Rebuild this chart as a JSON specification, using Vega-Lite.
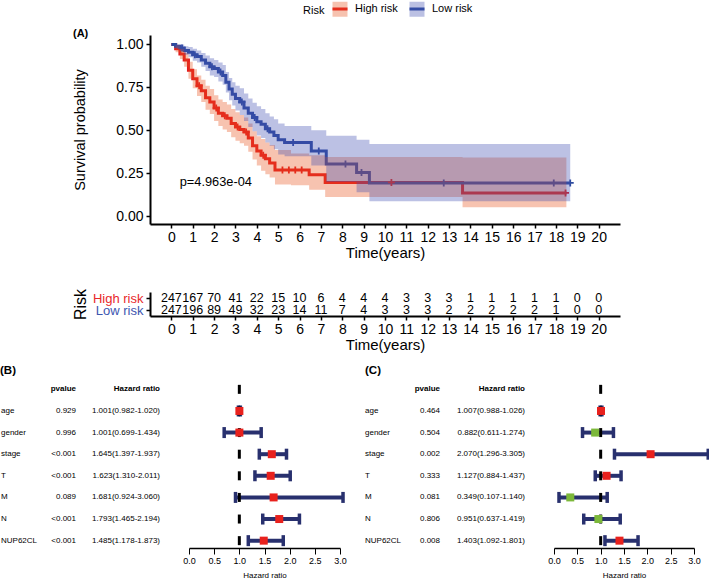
{
  "$schema": "https://vega.github.io/schema/vega-lite/v6.json",
  "background": "white",
  "padding": {"left": 0, "top": 0, "right": 0, "bottom": 0},
  "config": {
    "view": {"stroke": null},
    "font": "Liberation Sans",
    "axis": {"grid": false, "domainColor": "black", "tickColor": "black", "labelColor": "black", "titleColor": "black", "titleFontWeight": "normal"},
    "title": {"color": "black"}
  },
  "datasets": {
    "km": [
      {"g": "High risk", "t": 0, "s": 1, "lo": 1, "hi": 1},
      {"g": "High risk", "t": 0.2, "s": 0.975, "lo": 0.955, "hi": 0.995},
      {"g": "High risk", "t": 0.4, "s": 0.945, "lo": 0.915, "hi": 0.975},
      {"g": "High risk", "t": 0.6, "s": 0.91, "lo": 0.87, "hi": 0.95},
      {"g": "High risk", "t": 0.8, "s": 0.85, "lo": 0.8, "hi": 0.9},
      {"g": "High risk", "t": 1.0, "s": 0.8, "lo": 0.745, "hi": 0.855},
      {"g": "High risk", "t": 1.2, "s": 0.76, "lo": 0.7, "hi": 0.82},
      {"g": "High risk", "t": 1.4, "s": 0.73, "lo": 0.665, "hi": 0.795},
      {"g": "High risk", "t": 1.6, "s": 0.69, "lo": 0.62, "hi": 0.76},
      {"g": "High risk", "t": 1.8, "s": 0.665, "lo": 0.595, "hi": 0.74},
      {"g": "High risk", "t": 2.0, "s": 0.63, "lo": 0.555, "hi": 0.705},
      {"g": "High risk", "t": 2.2, "s": 0.6, "lo": 0.525, "hi": 0.68},
      {"g": "High risk", "t": 2.4, "s": 0.585, "lo": 0.505, "hi": 0.665},
      {"g": "High risk", "t": 2.6, "s": 0.57, "lo": 0.49, "hi": 0.65},
      {"g": "High risk", "t": 2.8, "s": 0.54, "lo": 0.46, "hi": 0.625},
      {"g": "High risk", "t": 3.0, "s": 0.52, "lo": 0.44, "hi": 0.605},
      {"g": "High risk", "t": 3.2, "s": 0.505, "lo": 0.425, "hi": 0.59},
      {"g": "High risk", "t": 3.4, "s": 0.49, "lo": 0.41, "hi": 0.575},
      {"g": "High risk", "t": 3.6, "s": 0.455, "lo": 0.375, "hi": 0.54},
      {"g": "High risk", "t": 3.8, "s": 0.41, "lo": 0.33, "hi": 0.495},
      {"g": "High risk", "t": 4.0, "s": 0.38, "lo": 0.295, "hi": 0.465},
      {"g": "High risk", "t": 4.2, "s": 0.355, "lo": 0.265, "hi": 0.45},
      {"g": "High risk", "t": 4.4, "s": 0.335, "lo": 0.245, "hi": 0.43},
      {"g": "High risk", "t": 4.6, "s": 0.31, "lo": 0.225, "hi": 0.415},
      {"g": "High risk", "t": 4.85, "s": 0.27, "lo": 0.185, "hi": 0.385},
      {"g": "High risk", "t": 5.6, "s": 0.27, "lo": 0.18, "hi": 0.365},
      {"g": "High risk", "t": 6.45, "s": 0.242, "lo": 0.155, "hi": 0.355},
      {"g": "High risk", "t": 7.2, "s": 0.197, "lo": 0.112, "hi": 0.345},
      {"g": "High risk", "t": 13.63, "s": 0.136, "lo": 0.052, "hi": 0.342},
      {"g": "High risk", "t": 18.49, "s": 0.136, "lo": 0.052, "hi": 0.342},
      {"g": "Low risk", "t": 0, "s": 1, "lo": 1, "hi": 1},
      {"g": "Low risk", "t": 0.2, "s": 0.99, "lo": 0.975, "hi": 1.0},
      {"g": "Low risk", "t": 0.4, "s": 0.98, "lo": 0.96, "hi": 1.0},
      {"g": "Low risk", "t": 0.6, "s": 0.965, "lo": 0.94, "hi": 0.99},
      {"g": "Low risk", "t": 0.8, "s": 0.955, "lo": 0.925, "hi": 0.985},
      {"g": "Low risk", "t": 1.0, "s": 0.94, "lo": 0.905, "hi": 0.975},
      {"g": "Low risk", "t": 1.2, "s": 0.93, "lo": 0.895, "hi": 0.965},
      {"g": "Low risk", "t": 1.4, "s": 0.91, "lo": 0.87, "hi": 0.95},
      {"g": "Low risk", "t": 1.6, "s": 0.89, "lo": 0.845, "hi": 0.935},
      {"g": "Low risk", "t": 1.8, "s": 0.87, "lo": 0.82, "hi": 0.92},
      {"g": "Low risk", "t": 2.0, "s": 0.86, "lo": 0.81, "hi": 0.91},
      {"g": "Low risk", "t": 2.2, "s": 0.84, "lo": 0.785, "hi": 0.895},
      {"g": "Low risk", "t": 2.4, "s": 0.82, "lo": 0.765, "hi": 0.88},
      {"g": "Low risk", "t": 2.55, "s": 0.78, "lo": 0.72, "hi": 0.84},
      {"g": "Low risk", "t": 2.7, "s": 0.74, "lo": 0.675, "hi": 0.805},
      {"g": "Low risk", "t": 2.85, "s": 0.71, "lo": 0.645, "hi": 0.78},
      {"g": "Low risk", "t": 3.0, "s": 0.685, "lo": 0.615, "hi": 0.76},
      {"g": "Low risk", "t": 3.2, "s": 0.665, "lo": 0.59, "hi": 0.745},
      {"g": "Low risk", "t": 3.4, "s": 0.63, "lo": 0.555, "hi": 0.715},
      {"g": "Low risk", "t": 3.6, "s": 0.6, "lo": 0.52, "hi": 0.685},
      {"g": "Low risk", "t": 3.8, "s": 0.575, "lo": 0.495, "hi": 0.66},
      {"g": "Low risk", "t": 4.0, "s": 0.55, "lo": 0.47, "hi": 0.64},
      {"g": "Low risk", "t": 4.2, "s": 0.535, "lo": 0.455, "hi": 0.625},
      {"g": "Low risk", "t": 4.4, "s": 0.51, "lo": 0.43, "hi": 0.6},
      {"g": "Low risk", "t": 4.6, "s": 0.49, "lo": 0.41, "hi": 0.58},
      {"g": "Low risk", "t": 4.8, "s": 0.47, "lo": 0.39, "hi": 0.565},
      {"g": "Low risk", "t": 5.0, "s": 0.445, "lo": 0.36, "hi": 0.54},
      {"g": "Low risk", "t": 5.3, "s": 0.43, "lo": 0.35, "hi": 0.525},
      {"g": "Low risk", "t": 6.55, "s": 0.38, "lo": 0.295, "hi": 0.5},
      {"g": "Low risk", "t": 7.25, "s": 0.304, "lo": 0.2, "hi": 0.468},
      {"g": "Low risk", "t": 8.67, "s": 0.255, "lo": 0.14, "hi": 0.445},
      {"g": "Low risk", "t": 9.27, "s": 0.194, "lo": 0.087, "hi": 0.42},
      {"g": "Low risk", "t": 18.67, "s": 0.194, "lo": 0.087, "hi": 0.42}
    ],
    "cens": [
      {"g": "High risk", "t": 1.3, "s": 0.76},
      {"g": "High risk", "t": 2.1, "s": 0.63},
      {"g": "High risk", "t": 2.5, "s": 0.585},
      {"g": "High risk", "t": 3.1, "s": 0.52},
      {"g": "High risk", "t": 3.5, "s": 0.49},
      {"g": "High risk", "t": 4.3, "s": 0.355},
      {"g": "High risk", "t": 5.2, "s": 0.27},
      {"g": "High risk", "t": 5.5, "s": 0.27},
      {"g": "High risk", "t": 5.8, "s": 0.27},
      {"g": "High risk", "t": 6.1, "s": 0.27},
      {"g": "High risk", "t": 10.3, "s": 0.197},
      {"g": "High risk", "t": 18.45, "s": 0.136},
      {"g": "Low risk", "t": 0.5, "s": 0.98},
      {"g": "Low risk", "t": 1.1, "s": 0.94},
      {"g": "Low risk", "t": 1.9, "s": 0.87},
      {"g": "Low risk", "t": 2.3, "s": 0.84},
      {"g": "Low risk", "t": 3.3, "s": 0.665},
      {"g": "Low risk", "t": 3.9, "s": 0.575},
      {"g": "Low risk", "t": 4.5, "s": 0.51},
      {"g": "Low risk", "t": 5.7, "s": 0.43},
      {"g": "Low risk", "t": 6.9, "s": 0.38},
      {"g": "Low risk", "t": 8.15, "s": 0.304},
      {"g": "Low risk", "t": 8.9, "s": 0.255},
      {"g": "Low risk", "t": 12.75, "s": 0.194},
      {"g": "Low risk", "t": 17.9, "s": 0.194},
      {"g": "Low risk", "t": 18.67, "s": 0.194}
    ],
    "risk": [
      {"g": "High risk", "t": 0, "n": 247}, {"g": "High risk", "t": 1, "n": 167}, {"g": "High risk", "t": 2, "n": 70},
      {"g": "High risk", "t": 3, "n": 41}, {"g": "High risk", "t": 4, "n": 22}, {"g": "High risk", "t": 5, "n": 15},
      {"g": "High risk", "t": 6, "n": 10}, {"g": "High risk", "t": 7, "n": 6}, {"g": "High risk", "t": 8, "n": 4},
      {"g": "High risk", "t": 9, "n": 4}, {"g": "High risk", "t": 10, "n": 4}, {"g": "High risk", "t": 11, "n": 3},
      {"g": "High risk", "t": 12, "n": 3}, {"g": "High risk", "t": 13, "n": 3}, {"g": "High risk", "t": 14, "n": 1},
      {"g": "High risk", "t": 15, "n": 1}, {"g": "High risk", "t": 16, "n": 1}, {"g": "High risk", "t": 17, "n": 1},
      {"g": "High risk", "t": 18, "n": 1}, {"g": "High risk", "t": 19, "n": 0}, {"g": "High risk", "t": 20, "n": 0},
      {"g": "Low risk", "t": 0, "n": 247}, {"g": "Low risk", "t": 1, "n": 196}, {"g": "Low risk", "t": 2, "n": 89},
      {"g": "Low risk", "t": 3, "n": 49}, {"g": "Low risk", "t": 4, "n": 32}, {"g": "Low risk", "t": 5, "n": 23},
      {"g": "Low risk", "t": 6, "n": 14}, {"g": "Low risk", "t": 7, "n": 11}, {"g": "Low risk", "t": 8, "n": 7},
      {"g": "Low risk", "t": 9, "n": 4}, {"g": "Low risk", "t": 10, "n": 3}, {"g": "Low risk", "t": 11, "n": 3},
      {"g": "Low risk", "t": 12, "n": 3}, {"g": "Low risk", "t": 13, "n": 2}, {"g": "Low risk", "t": 14, "n": 2},
      {"g": "Low risk", "t": 15, "n": 2}, {"g": "Low risk", "t": 16, "n": 2}, {"g": "Low risk", "t": 17, "n": 2},
      {"g": "Low risk", "t": 18, "n": 1}, {"g": "Low risk", "t": 19, "n": 0}, {"g": "Low risk", "t": 20, "n": 0}
    ],
    "fb": [
      {"key": "hdr", "name": "", "pv": "pvalue", "hr": "Hazard ratio"},
      {"key": "age", "name": "age", "pv": "0.929", "hr": "1.001(0.982-1.020)", "est": 1.001, "lo": 0.982, "hi": 1.02},
      {"key": "gender", "name": "gender", "pv": "0.996", "hr": "1.001(0.699-1.434)", "est": 1.001, "lo": 0.699, "hi": 1.434},
      {"key": "stage", "name": "stage", "pv": "<0.001", "hr": "1.645(1.397-1.937)", "est": 1.645, "lo": 1.397, "hi": 1.937},
      {"key": "T", "name": "T", "pv": "<0.001", "hr": "1.623(1.310-2.011)", "est": 1.623, "lo": 1.31, "hi": 2.011},
      {"key": "M", "name": "M", "pv": "0.089", "hr": "1.681(0.924-3.060)", "est": 1.681, "lo": 0.924, "hi": 3.06},
      {"key": "N", "name": "N", "pv": "<0.001", "hr": "1.793(1.465-2.194)", "est": 1.793, "lo": 1.465, "hi": 2.194},
      {"key": "NUP62CL", "name": "NUP62CL", "pv": "<0.001", "hr": "1.485(1.178-1.873)", "est": 1.485, "lo": 1.178, "hi": 1.873}
    ],
    "fc": [
      {"key": "hdr", "name": "", "pv": "pvalue", "hr": "Hazard ratio"},
      {"key": "age", "name": "age", "pv": "0.464", "hr": "1.007(0.988-1.026)", "est": 1.007, "lo": 0.988, "hi": 1.026},
      {"key": "gender", "name": "gender", "pv": "0.504", "hr": "0.882(0.611-1.274)", "est": 0.882, "lo": 0.611, "hi": 1.274},
      {"key": "stage", "name": "stage", "pv": "0.002", "hr": "2.070(1.296-3.305)", "est": 2.07, "lo": 1.296, "hi": 3.305},
      {"key": "T", "name": "T", "pv": "0.333", "hr": "1.127(0.884-1.437)", "est": 1.127, "lo": 0.884, "hi": 1.437},
      {"key": "M", "name": "M", "pv": "0.081", "hr": "0.349(0.107-1.140)", "est": 0.349, "lo": 0.107, "hi": 1.14},
      {"key": "N", "name": "N", "pv": "0.806", "hr": "0.951(0.637-1.419)", "est": 0.951, "lo": 0.637, "hi": 1.419},
      {"key": "NUP62CL", "name": "NUP62CL", "pv": "0.008", "hr": "1.403(1.092-1.801)", "est": 1.403, "lo": 1.092, "hi": 1.801}
    ]
  },
  "spacing": 12,
  "vconcat": [
    {
      "spacing": 28,
      "vconcat": [
        {
          "width": 620,
          "height": 189,
          "title": {"text": "(A)", "anchor": "start", "frame": "group", "dx": 73, "dy": 10, "baseline": "middle", "offset": 0, "fontSize": 11, "fontWeight": "bold"},
          "layer": [
            {
              "data": {"name": "km"},
              "mark": {"type": "line", "interpolate": "step-after", "strokeWidth": 3},
              "encoding": {
                "x": {"field": "t", "type": "quantitative",
                  "scale": {"domain": [-1, 21], "range": [150, 620], "nice": false, "zero": false},
                  "axis": {"values": [0,1,2,3,4,5,6,7,8,9,10,11,12,13,14,15,16,17,18,19,20], "title": "Time(years)", "titleFontSize": 15, "labelFontSize": 14, "tickSize": 4, "tickWidth": 1.5, "domainWidth": 2, "labelPadding": 2, "titlePadding": 1, "labelFlush": false, "labelOverlap": false}},
                "y": {"field": "s", "type": "quantitative", "stack": null,
                  "scale": {"domain": [-0.045, 1.055], "nice": false, "zero": false},
                  "axis": {"values": [0, 0.25, 0.5, 0.75, 1], "format": ".2f", "offset": -150, "title": "Survival probability", "titleFontSize": 14.5, "labelFontSize": 14, "tickSize": 4, "tickWidth": 1.5, "domainWidth": 2, "labelPadding": 3, "titlePadding": 28, "labelFlush": false}},
                "stroke": {"field": "g", "type": "nominal",
                  "scale": {"domain": ["High risk", "Low risk"], "range": ["#E41A1C", "#2E4B9F"]},
                  "legend": {"orient": "none", "legendX": 303, "legendY": -35, "direction": "horizontal", "title": "Risk", "titleOrient": "left", "titleFontSize": 11, "titleFontWeight": "normal", "titleColor": "transparent", "titlePadding": 6, "labelFontSize": 11, "labelColor": "transparent", "labelOffset": 6, "columnPadding": 5, "symbolType": "M-1,0H1", "symbolSize": 225, "symbolStrokeWidth": 3}}
              }
            },
            {
              "data": {"name": "cens"},
              "mark": {"type": "point", "shape": "M-1,0H1M0,-1V1", "size": 49, "filled": false, "strokeWidth": 1.8, "opacity": 1},
              "encoding": {
                "x": {"field": "t", "type": "quantitative",
                  "axis": {"values": [0,1,2,3,4,5,6,7,8,9,10,11,12,13,14,15,16,17,18,19,20], "title": "Time(years)", "titleFontSize": 15, "labelFontSize": 14, "tickSize": 4, "tickWidth": 1.5, "domainWidth": 2, "labelPadding": 2, "titlePadding": 1, "labelFlush": false, "labelOverlap": false}},
                "y": {"field": "s", "type": "quantitative"},
                "color": {"condition": {"test": "datum.g === 'High risk'", "value": "#E41A1C"}, "value": "#2E4B9F"}
              }
            },
            {
              "data": {"name": "km"},
              "mark": {"type": "area", "interpolate": "step-after", "opacity": 0.35},
              "encoding": {
                "x": {"field": "t", "type": "quantitative",
                  "axis": {"values": [0,1,2,3,4,5,6,7,8,9,10,11,12,13,14,15,16,17,18,19,20], "title": "Time(years)", "titleFontSize": 15, "labelFontSize": 14, "tickSize": 4, "tickWidth": 1.5, "domainWidth": 2, "labelPadding": 2, "titlePadding": 1, "labelFlush": false, "labelOverlap": false}},
                "y": {"field": "lo", "type": "quantitative", "stack": null},
                "y2": {"field": "hi"},
                "fill": {"field": "g", "type": "nominal",
                  "scale": {"range": ["#E8541D", "#404EB2"]},
                  "legend": {"orient": "none", "legendX": 303, "legendY": -35, "direction": "horizontal", "title": "Risk", "titleOrient": "left", "titleFontSize": 11, "titleFontWeight": "normal", "titleColor": "black", "titlePadding": 6, "labelFontSize": 11, "labelColor": "black", "labelOffset": 6, "columnPadding": 5, "symbolType": "M-1,-1H1V1H-1Z", "symbolSize": 225, "symbolStrokeWidth": 3, "symbolStrokeColor": "transparent", "symbolOpacity": 0.35}}
              }
            },
            {
              "data": {"values": [{}]},
              "mark": {"type": "text", "align": "left", "baseline": "middle", "fontSize": 12.8, "color": "black"},
              "encoding": {
                "x": {"datum": 0.39, "type": "quantitative",
                  "axis": {"values": [0,1,2,3,4,5,6,7,8,9,10,11,12,13,14,15,16,17,18,19,20], "title": "Time(years)", "titleFontSize": 15, "labelFontSize": 14, "tickSize": 4, "tickWidth": 1.5, "domainWidth": 2, "labelPadding": 2, "titlePadding": 1, "labelFlush": false, "labelOverlap": false}},
                "y": {"datum": 0.197, "type": "quantitative"},
                "text": {"value": "p=4.963e-04"}
              }
            }
          ]
        },
        {
          "width": 620,
          "height": 24,
          "data": {"name": "risk"},
          "mark": {"type": "text", "fontSize": 12.5, "color": "black"},
          "encoding": {
            "x": {"field": "t", "type": "quantitative",
              "scale": {"domain": [-1, 21], "range": [150, 620], "nice": false, "zero": false},
              "axis": {"values": [0,1,2,3,4,5,6,7,8,9,10,11,12,13,14,15,16,17,18,19,20], "title": "Time(years)", "titleFontSize": 15, "labelFontSize": 14, "tickSize": 4, "tickWidth": 1.5, "domainWidth": 2, "labelPadding": 2, "titlePadding": 1, "labelFlush": false, "labelOverlap": false}},
            "y": {"field": "g", "type": "nominal",
              "scale": {"type": "point", "domain": ["High risk", "Low risk"], "padding": 0.5},
              "axis": {"offset": -150, "title": "Risk", "titleFontSize": 16, "labelFontSize": 13, "tickSize": 4, "tickWidth": 1.5, "domainWidth": 2, "labelPadding": 3, "titlePadding": 4,
                "labelColor": {"condition": {"test": "datum.value === 'High risk'", "value": "#E8282B"}, "value": "#3D56B0"}}},
            "text": {"field": "n", "type": "nominal"}
          }
        }
      ]
    },
    {
      "spacing": 14,
      "hconcat": [
        {
          "width": 345,
          "height": 166,
          "title": {"text": "(B)", "anchor": "start", "frame": "group", "dx": 0, "offset": 6, "fontSize": 11.5, "fontWeight": "bold"},
          "data": {"name": "fb"},
          "resolve": {"scale": {"x": "independent"}, "axis": {"x": "independent"}},
          "layer": [
            {
              "layer": [
                {
                  "transform": [{"filter": "datum.key !== 'hdr'"}],
                  "mark": {"type": "text", "align": "left", "fontSize": 8, "color": "black"},
                  "encoding": {
                    "x": {"datum": "name", "type": "nominal", "scale": {"type": "point", "domain": ["name", "pv", "hr"], "range": [1, 169], "padding": 0}, "axis": null},
                    "y": {"field": "key", "type": "nominal", "scale": {"type": "point", "domain": ["hdr", "age", "gender", "stage", "T", "M", "N", "NUP62CL"], "padding": 0.34}, "axis": null},
                    "text": {"field": "name"}
                  }
                },
                {
                  "transform": [{"filter": "datum.key !== 'hdr'"}, {"fold": ["pv", "hr"], "as": ["col", "val"]}],
                  "mark": {"type": "text", "align": "right", "dx": -9, "fontSize": 8, "color": "black"},
                  "encoding": {
                    "x": {"field": "col", "type": "nominal", "axis": null},
                    "y": {"field": "key", "type": "nominal"},
                    "text": {"field": "val"}
                  }
                },
                {
                  "transform": [{"filter": "datum.key === 'hdr'"}, {"fold": ["pv", "hr"], "as": ["col", "val"]}],
                  "mark": {"type": "text", "align": "right", "dx": -9, "fontSize": 8, "fontWeight": "bold", "color": "black"},
                  "encoding": {
                    "x": {"field": "col", "type": "nominal", "axis": null},
                    "y": {"field": "key", "type": "nominal"},
                    "text": {"field": "val"}
                  }
                }
              ]
            },
            {
              "layer": [
                {
                  "transform": [{"filter": "isValid(datum.lo)"}],
                  "mark": {"type": "rule", "strokeWidth": 4, "color": "#28306E"},
                  "encoding": {
                    "x": {"field": "lo", "type": "quantitative", "scale": {"domain": [0, 3], "range": [189, 340], "nice": false, "zero": false},
                      "axis": {"orient": "bottom", "values": [0, 0.5, 1, 1.5, 2, 2.5, 3], "format": ".1f", "title": "Hazard ratio", "labelFontSize": 9, "titleFontSize": 8, "tickSize": 6, "tickWidth": 1, "domainWidth": 1.5, "labelPadding": 2, "titlePadding": 6, "labelFlush": false}},
                    "x2": {"field": "hi"},
                    "y": {"field": "key", "type": "nominal"}
                  }
                },
                {
                  "transform": [{"filter": "isValid(datum.lo)"}, {"fold": ["lo", "hi"], "as": ["end", "v"]}],
                  "mark": {"type": "tick", "orient": "vertical", "size": 11, "thickness": 3.5, "color": "#28306E", "opacity": 1},
                  "encoding": {
                    "x": {"field": "v", "type": "quantitative"},
                    "y": {"field": "key", "type": "nominal"}
                  }
                },
                {
                  "mark": {"type": "tick", "orient": "vertical", "size": 9, "thickness": 3, "color": "black", "opacity": 1},
                  "encoding": {
                    "x": {"datum": 1, "type": "quantitative"},
                    "y": {"field": "key", "type": "nominal"}
                  }
                },
                {
                  "transform": [{"filter": "isValid(datum.est)"}],
                  "mark": {"type": "square", "size": 64, "opacity": 1},
                  "encoding": {
                    "x": {"field": "est", "type": "quantitative"},
                    "y": {"field": "key", "type": "nominal"},
                    "color": {"condition": {"test": "datum.est > 1", "value": "#E8211D"}, "value": "#7CB83A"}
                  }
                }
              ]
            }
          ]
        },
        {
          "width": 345,
          "height": 166,
          "title": {"text": "(C)", "anchor": "start", "frame": "group", "dx": 4, "offset": 6, "fontSize": 11.5, "fontWeight": "bold"},
          "data": {"name": "fc"},
          "resolve": {"scale": {"x": "independent"}, "axis": {"x": "independent"}},
          "layer": [
            {
              "layer": [
                {
                  "transform": [{"filter": "datum.key !== 'hdr'"}],
                  "mark": {"type": "text", "align": "left", "fontSize": 8, "color": "black"},
                  "encoding": {
                    "x": {"datum": "name", "type": "nominal", "scale": {"type": "point", "domain": ["name", "pv", "hr"], "range": [4, 174], "padding": 0}, "axis": null},
                    "y": {"field": "key", "type": "nominal", "scale": {"type": "point", "domain": ["hdr", "age", "gender", "stage", "T", "M", "N", "NUP62CL"], "padding": 0.34}, "axis": null},
                    "text": {"field": "name"}
                  }
                },
                {
                  "transform": [{"filter": "datum.key !== 'hdr'"}, {"fold": ["pv", "hr"], "as": ["col", "val"]}],
                  "mark": {"type": "text", "align": "right", "dx": -10, "fontSize": 8, "color": "black"},
                  "encoding": {
                    "x": {"field": "col", "type": "nominal", "axis": null},
                    "y": {"field": "key", "type": "nominal"},
                    "text": {"field": "val"}
                  }
                },
                {
                  "transform": [{"filter": "datum.key === 'hdr'"}, {"fold": ["pv", "hr"], "as": ["col", "val"]}],
                  "mark": {"type": "text", "align": "right", "dx": -10, "fontSize": 8, "fontWeight": "bold", "color": "black"},
                  "encoding": {
                    "x": {"field": "col", "type": "nominal", "axis": null},
                    "y": {"field": "key", "type": "nominal"},
                    "text": {"field": "val"}
                  }
                }
              ]
            },
            {
              "layer": [
                {
                  "transform": [{"filter": "isValid(datum.lo)"}],
                  "mark": {"type": "rule", "strokeWidth": 4, "color": "#28306E"},
                  "encoding": {
                    "x": {"field": "lo", "type": "quantitative", "scale": {"domain": [0, 3], "range": [193, 333], "nice": false, "zero": false},
                      "axis": {"orient": "bottom", "values": [0, 0.5, 1, 1.5, 2, 2.5, 3], "format": ".1f", "title": "Hazard ratio", "labelFontSize": 9, "titleFontSize": 8, "tickSize": 6, "tickWidth": 1, "domainWidth": 1.5, "labelPadding": 2, "titlePadding": 6, "labelFlush": false}},
                    "x2": {"field": "hi"},
                    "y": {"field": "key", "type": "nominal"}
                  }
                },
                {
                  "transform": [{"filter": "isValid(datum.lo)"}, {"fold": ["lo", "hi"], "as": ["end", "v"]}],
                  "mark": {"type": "tick", "orient": "vertical", "size": 11, "thickness": 3.5, "color": "#28306E", "opacity": 1},
                  "encoding": {
                    "x": {"field": "v", "type": "quantitative"},
                    "y": {"field": "key", "type": "nominal"}
                  }
                },
                {
                  "mark": {"type": "tick", "orient": "vertical", "size": 9, "thickness": 3, "color": "black", "opacity": 1},
                  "encoding": {
                    "x": {"datum": 1, "type": "quantitative"},
                    "y": {"field": "key", "type": "nominal"}
                  }
                },
                {
                  "transform": [{"filter": "isValid(datum.est)"}],
                  "mark": {"type": "square", "size": 64, "opacity": 1},
                  "encoding": {
                    "x": {"field": "est", "type": "quantitative"},
                    "y": {"field": "key", "type": "nominal"},
                    "color": {"condition": {"test": "datum.est > 1", "value": "#E8211D"}, "value": "#7CB83A"}
                  }
                }
              ]
            }
          ]
        }
      ]
    }
  ]
}
